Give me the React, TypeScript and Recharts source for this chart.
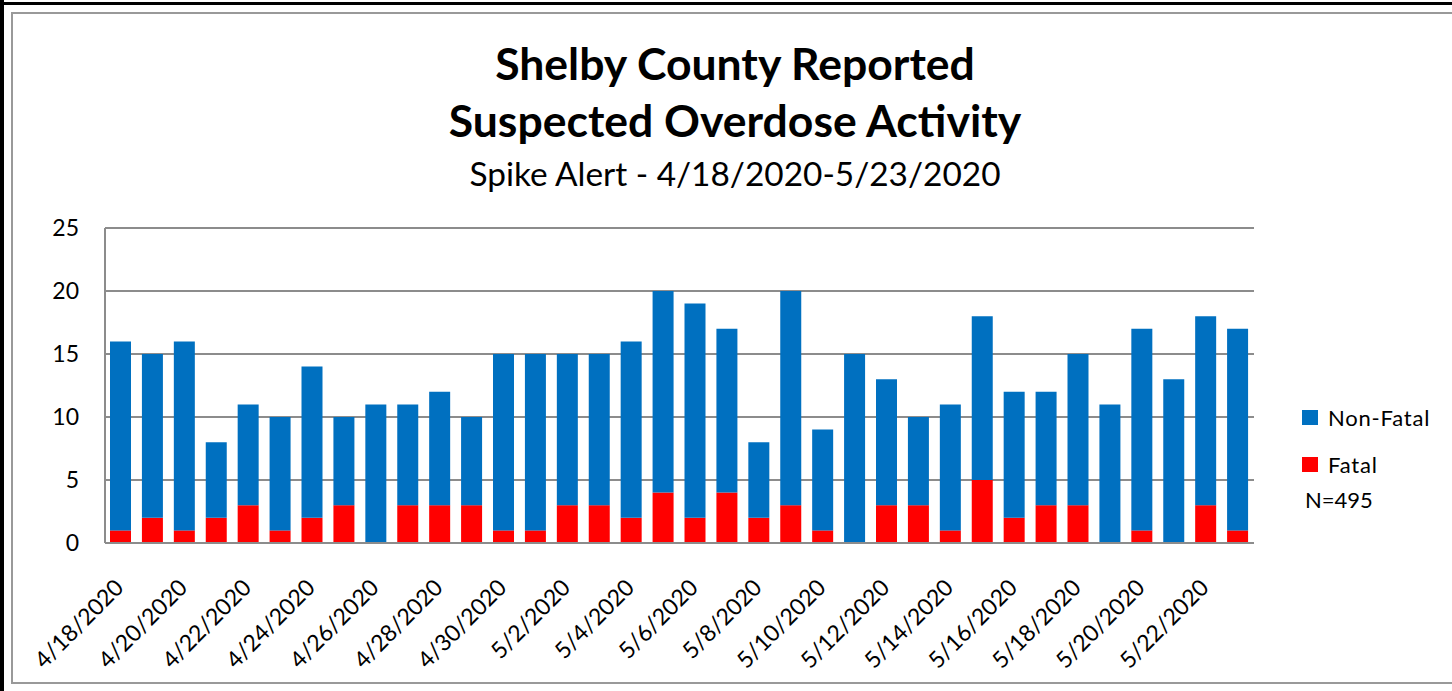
import { BarChart, Bar, XAxis, YAxis, CartesianGrid, Legend } from 'recharts'

const DATES = [
  '4/18/2020', '4/19/2020', '4/20/2020', '4/21/2020', '4/22/2020', '4/23/2020',
  '4/24/2020', '4/25/2020', '4/26/2020', '4/27/2020', '4/28/2020', '4/29/2020',
  '4/30/2020', '5/1/2020', '5/2/2020', '5/3/2020', '5/4/2020', '5/5/2020',
  '5/6/2020', '5/7/2020', '5/8/2020', '5/9/2020', '5/10/2020', '5/11/2020',
  '5/12/2020', '5/13/2020', '5/14/2020', '5/15/2020', '5/16/2020', '5/17/2020',
  '5/18/2020', '5/19/2020', '5/20/2020', '5/21/2020', '5/22/2020', '5/23/2020',
]

const FATAL = [1, 2, 1, 2, 3, 1, 2, 3, 0, 3, 3, 3, 1, 1, 3, 3, 2, 4, 2, 4, 2, 3, 1, 0, 3, 3, 1, 5, 2, 3, 3, 0, 1, 0, 3, 1]

const NON_FATAL = [15, 13, 15, 6, 8, 9, 12, 7, 11, 8, 9, 7, 14, 14, 12, 12, 14, 16, 17, 13, 6, 17, 8, 15, 10, 7, 10, 13, 10, 9, 12, 11, 16, 13, 15, 16]

const Y_TICKS = [0, 5, 10, 15, 20, 25]

const TOTAL_N = 495

const BLUE = '#0070C0'
const RED = '#FF0000'
const GRID = '#8c8c8c'
const FONT = 'Lato, "Open Sans", sans-serif'

const data = DATES.map((date, i) => ({
  date,
  fatal: FATAL[i],
  nonFatal: NON_FATAL[i],
}))

function DateTick(props: any) {
  const { x, y, payload } = props
  return (
    <g transform={`translate(${x + 4},${y + 38})`}>
      <text
        textAnchor="end"
        transform="rotate(-45)"
        fontSize={23}
        fontFamily={FONT}
        fill="#000"
      >
        {payload.value}
      </text>
    </g>
  )
}

function LegendBox(props: any) {
  const items = [...(props.payload ?? [])].reverse()
  return (
    <div style={{ fontFamily: FONT, fontSize: 22, color: '#000' }}>
      {items.map((it: any) => (
        <div
          key={it.value}
          style={{ display: 'flex', alignItems: 'center', height: 24, marginBottom: 23 }}
        >
          <span
            style={{
              display: 'inline-block',
              width: 16,
              height: 15,
              background: it.color,
              marginRight: 10,
            }}
          />
          <span style={{ letterSpacing: 0.8 }}>{it.value}</span>
        </div>
      ))}
      <div style={{ marginTop: -13, marginLeft: 3 }}>N={TOTAL_N}</div>
    </div>
  )
}

export default function App() {
  return (
    <div
      style={{
        position: 'absolute',
        left: 0,
        top: 0,
        width: 1452,
        height: 691,
        background: '#fff',
        overflow: 'hidden',
      }}
    >
      <svg
        width={1452}
        height={691}
        style={{ position: 'absolute', left: 0, top: 0 }}
      >
        <rect x={0} y={2} width={1452} height={3} fill="#000" />
        <rect x={0} y={0} width={4} height={691} fill="#000" />
        <rect
          x={12}
          y={13}
          width={1460}
          height={670}
          fill="none"
          stroke="#999"
          strokeWidth={2}
        />
        <text
          x={735}
          y={80}
          textAnchor="middle"
          fontFamily={FONT}
          fontWeight={700}
          fontSize={44.5}
        >
          Shelby County Reported
        </text>
        <text
          x={735}
          y={137}
          textAnchor="middle"
          fontFamily={FONT}
          fontWeight={700}
          fontSize={44.5}
        >
          Suspected Overdose Activity
        </text>
        <text
          x={735}
          y={186}
          textAnchor="middle"
          fontFamily={FONT}
          fontSize={33.4}
        >
          Spike Alert - 4/18/2020-5/23/2020
        </text>
      </svg>
      <div style={{ position: 'absolute', left: 0, top: 0 }}>
        <BarChart
          width={1452}
          height={691}
          data={data}
          margin={{ top: 228, right: 48, bottom: 8, left: 0 }}
        >
          <CartesianGrid vertical={false} stroke={GRID} strokeWidth={2} />
          <XAxis
            dataKey="date"
            interval={1}
            height={140}
            tickLine={false}
            axisLine={{ stroke: GRID, strokeWidth: 2 }}
            tick={<DateTick />}
          />
          <YAxis
            width={105}
            domain={[0, 25]}
            ticks={Y_TICKS}
            tickLine={false}
            tickSize={0}
            tickMargin={26}
            axisLine={{ stroke: GRID, strokeWidth: 2 }}
            tick={{ fontSize: 23, fontFamily: FONT, fill: '#000' }}
          />
          <Legend
            layout="vertical"
            verticalAlign="top"
            align="right"
            content={<LegendBox />}
            wrapperStyle={{ top: 405, left: 1302, width: 150 }}
          />
          <Bar
            dataKey="fatal"
            name="Fatal"
            stackId="a"
            fill={RED}
            barSize={21}
            isAnimationActive={false}
          />
          <Bar
            dataKey="nonFatal"
            name="Non-Fatal"
            stackId="a"
            fill={BLUE}
            barSize={21}
            isAnimationActive={false}
          />
        </BarChart>
      </div>
    </div>
  )
}
